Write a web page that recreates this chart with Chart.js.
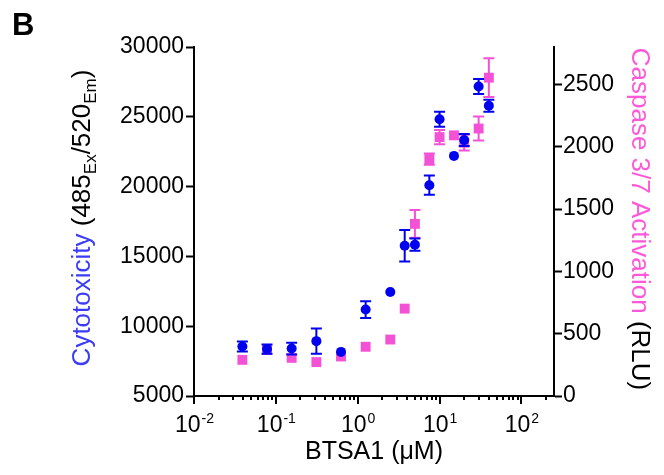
<!DOCTYPE html>
<html>
<head>
<meta charset="utf-8">
<script src="https://cdn.jsdelivr.net/npm/chart.js@4/dist/chart.umd.min.js"></script>
<style>
  body { margin: 0; background: #fff; }
  #wrap { width: 664px; height: 475px; position: relative; }
</style>
</head>
<body>
<div id="wrap"><canvas id="myChart"></canvas></div>
<script>
// BTSA1 concentrations (uM)
const conc = [0.039, 0.078, 0.156, 0.3125, 0.625, 1.25, 2.5, 3.75, 5, 7.5, 10, 15, 20, 30, 40];

// cytotoxicity, fluorescence 485ex/520em
const cyto = [8550, 8360, 8400, 8930, 8160, 11190, 12450, 15760, 15840, 20100, 24830, 22200, 23330, 27170, 25790];
const cytoErr = [360, 330, 420, 900, 0, 600, 0, 1130, 440, 690, 540, 0, 430, 540, 430];

// caspase 3/7 activation, RLU
const casp = [290, 370, 306, 272, 317, 395, 453, 701, 1381, 1901, 2077, 2091, 2032, 2146, 2554];
const caspErr = [0, 0, 0, 0, 0, 0, 0, 0, 112, 45, 57, 0, 63, 97, 156];

const leftTicks = [5000, 10000, 15000, 20000, 25000, 30000];
const rightTicks = [0, 500, 1000, 1500, 2000, 2500];
const decades = [-2, -1, 0, 1, 2];

const blue = '#0000f0';
const pink = '#f452d6';
const FONT = '"Liberation Sans", Arial, sans-serif';

// vertical error bars, drawn under each dataset's markers
const errorBars = {
    id: 'errorBars',
    beforeDatasetDraw(chart, args) {
        const ds = chart.data.datasets[args.index];
        const xs = chart.scales.x;
        const ys = chart.scales[ds.yAxisID];
        const ctx = chart.ctx;
        ctx.save();
        ctx.strokeStyle = ds.backgroundColor;
        ctx.lineWidth = 2;
        ds.data.forEach((p, i) => {
            const e = ds.errors[i];
            if (!e) return;
            const x = xs.getPixelForValue(p.x);
            const top = ys.getPixelForValue(p.y + e);
            const bot = ys.getPixelForValue(p.y - e);
            ctx.beginPath();
            ctx.moveTo(x, top); ctx.lineTo(x, bot);
            ctx.moveTo(x - 5.5, top); ctx.lineTo(x + 5.5, top);
            ctx.moveTo(x - 5.5, bot); ctx.lineTo(x + 5.5, bot);
            ctx.stroke();
        });
        ctx.restore();
    }
};

// log ticks with superscript labels, axis titles and panel letter
const decorations = {
    id: 'decorations',
    afterDraw(chart) {
        const ctx = chart.ctx;
        const xs = chart.scales.x;
        const base = chart.chartArea.bottom;
        ctx.save();
        ctx.strokeStyle = '#000';
        ctx.fillStyle = '#000';

        // major and minor ticks on the log axis
        decades.forEach(d => {
            for (let m = 1; m <= 9; m++) {
                const v = m * Math.pow(10, d);
                if (v > xs.max) break;
                const x = Math.round(xs.getPixelForValue(v));
                ctx.lineWidth = 2;
                ctx.beginPath();
                ctx.moveTo(x, base);
                ctx.lineTo(x, base + (m === 1 ? 8 : 4));
                ctx.stroke();
            }
        });

        // 10^n labels
        decades.forEach(d => {
            const x = xs.getPixelForValue(Math.pow(10, d));
            ctx.font = '23px ' + FONT;
            const w1 = ctx.measureText('10').width;
            ctx.font = '14px ' + FONT;
            const exp = String(d);
            const w2 = ctx.measureText(exp).width;
            const start = x - (w1 + w2) / 2;
            ctx.textAlign = 'left';
            ctx.textBaseline = 'alphabetic';
            ctx.font = '23px ' + FONT;
            ctx.fillText('10', start, 432);
            ctx.font = '14px ' + FONT;
            ctx.fillText(exp, start + w1 + 1, 423);
        });

        // x title
        ctx.font = '25px ' + FONT;
        ctx.textAlign = 'center';
        ctx.fillText('BTSA1 (\u03bcM)', (chart.chartArea.left + chart.chartArea.right) / 2, 459);

        // left title, pieces with subscripts
        const leftParts = [
            ['Cytotoxicity', '#3b3bf8', 26, 0],
            [' (485', '#000', 26, 0],
            ['Ex', '#000', 17, 6],
            ['/520', '#000', 26, 0],
            ['Em', '#000', 17, 6],
            [')', '#000', 26, 0]
        ];
        drawRotated(ctx, leftParts, 90, 218, -Math.PI / 2);

        // right title
        const rightParts = [
            ['Caspase 3/7 Activation', '#ff58d8', 26, 0],
            [' (RLU)', '#000', 26, 0]
        ];
        drawRotated(ctx, rightParts, 632, 219, Math.PI / 2);

        // panel letter
        ctx.font = 'bold 31px ' + FONT;
        ctx.textAlign = 'left';
        ctx.fillStyle = '#000';
        ctx.fillText('B', 12, 35);
        ctx.restore();
    }
};

function drawRotated(ctx, parts, cx, cy, angle) {
    let total = 0;
    parts.forEach(p => {
        ctx.font = p[2] + 'px ' + FONT;
        total += ctx.measureText(p[0]).width;
    });
    ctx.save();
    ctx.translate(cx, cy);
    ctx.rotate(angle);
    ctx.textAlign = 'left';
    ctx.textBaseline = 'alphabetic';
    let pos = -total / 2;
    parts.forEach(p => {
        ctx.font = p[2] + 'px ' + FONT;
        ctx.fillStyle = p[1];
        ctx.fillText(p[0], pos, p[3]);
        pos += ctx.measureText(p[0]).width;
    });
    ctx.restore();
}

const ctx = document.getElementById('myChart');
const myChart = new Chart(ctx, {
    type: 'scatter',
    data: {
        datasets: [{
            label: 'Cytotoxicity',
            data: conc.map((c, i) => ({ x: c, y: cyto[i] })),
            errors: cytoErr,
            yAxisID: 'y',
            pointStyle: 'circle',
            pointRadius: 5,
            borderWidth: 0,
            backgroundColor: blue,
            borderColor: blue
        }, {
            label: 'Caspase 3/7',
            data: conc.map((c, i) => ({ x: c, y: casp[i] })),
            errors: caspErr,
            yAxisID: 'y2',
            pointStyle: 'rect',
            pointRadius: 7,
            borderWidth: 0,
            backgroundColor: pink,
            borderColor: pink
        }]
    },
    options: {
        responsive: true,
        maintainAspectRatio: false,
        animation: false,
        events: [],
        layout: {
            padding: { left: 0, right: 0, top: 47, bottom: 0 }
        },
        plugins: {
            legend: { display: false },
            tooltip: { enabled: false }
        },
        scales: {
            x: {
                type: 'logarithmic',
                position: 'bottom',
                min: 0.01,
                max: 250,
                ticks: { display: false },
                grid: { drawOnChartArea: false, drawTicks: false },
                border: { color: '#000', width: 2 },
                afterFit(scale) { scale.height = 79; }
            },
            y: {
                type: 'linear',
                position: 'left',
                min: 5000,
                max: 30000,
                afterBuildTicks(scale) { scale.ticks = leftTicks.map(v => ({ value: v })); },
                ticks: {
                    color: '#000',
                    padding: 2,
                    font: { family: FONT, size: 23 },
                    callback: v => String(v)
                },
                grid: { drawOnChartArea: false, tickLength: 8, tickWidth: 2, tickColor: '#000' },
                border: { color: '#000', width: 2 },
                afterFit(scale) { scale.width = 194; }
            },
            y2: {
                type: 'linear',
                position: 'right',
                min: 0,
                max: 2800,
                afterBuildTicks(scale) { scale.ticks = rightTicks.map(v => ({ value: v })); },
                ticks: {
                    color: '#000',
                    padding: 1,
                    font: { family: FONT, size: 23 },
                    callback: v => String(v)
                },
                grid: { drawOnChartArea: false, tickLength: 8, tickWidth: 2, tickColor: '#000' },
                border: { color: '#000', width: 2 },
                afterFit(scale) { scale.width = 110; }
            }
        }
    },
    plugins: [errorBars, decorations]
});
</script>
</body>
</html>
